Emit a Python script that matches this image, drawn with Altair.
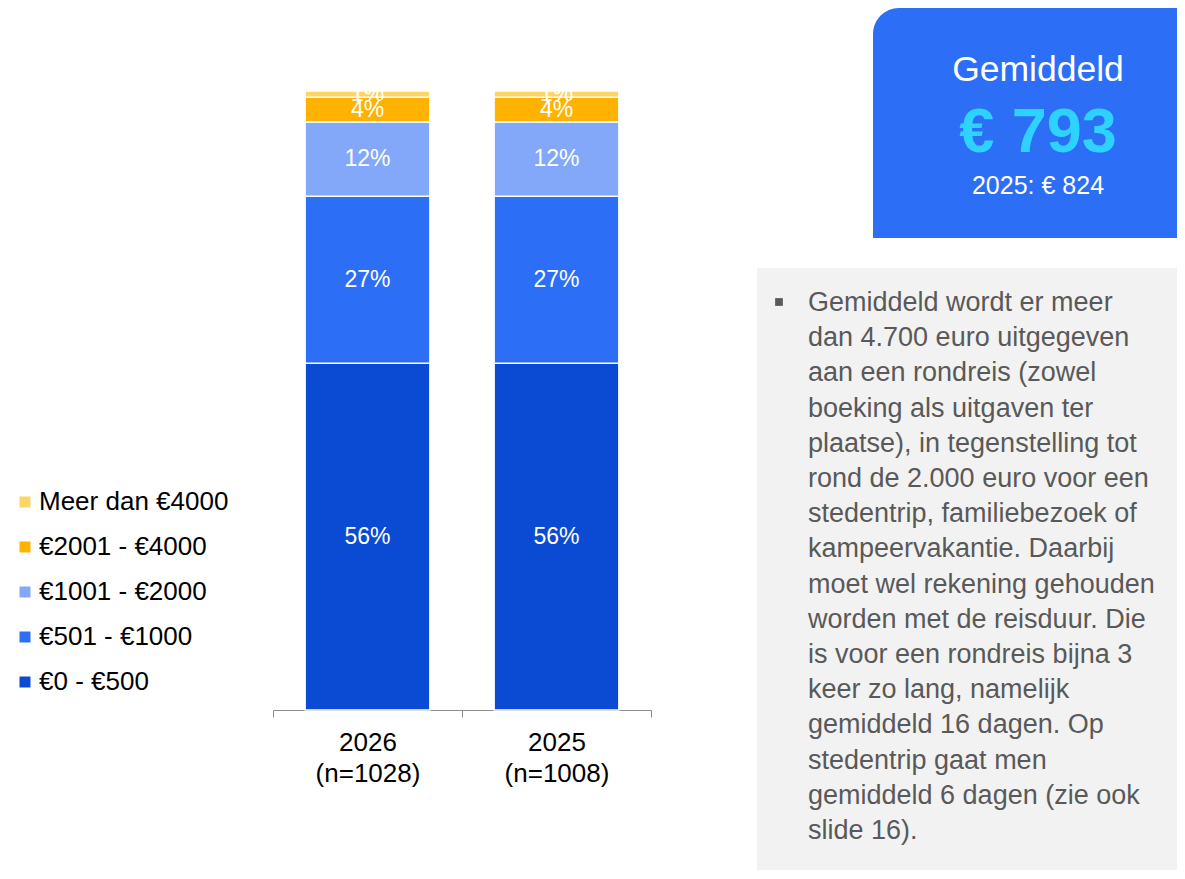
import altair as alt
import pandas as pd

# ---- data ----
years = ["2026\n(n=1028)", "2025\n(n=1008)"]
categories = ["€0 - €500", "€501 - €1000", "€1001 - €2000", "€2001 - €4000", "Meer dan €4000"]
values_2026 = [56, 27, 12, 4, 1]
values_2025 = [56, 27, 12, 4, 1]
colors = ["#0B4AD3", "#2D6EF6", "#83A8F9", "#FFB300", "#FFD466"]

box_title = "Gemiddeld"
box_value = "€ 793"
box_sub = "2025: € 824"
note_lines = [
    "Gemiddeld wordt er meer",
    "dan 4.700 euro uitgegeven",
    "aan een rondreis (zowel",
    "boeking als uitgaven ter",
    "plaatse), in tegenstelling tot",
    "rond de 2.000 euro voor een",
    "stedentrip, familiebezoek of",
    "kampeervakantie. Daarbij",
    "moet wel rekening gehouden",
    "worden met de reisduur. Die",
    "is voor een rondreis bijna 3",
    "keer zo lang, namelijk",
    "gemiddeld 16 dagen. Op",
    "stedentrip gaat men",
    "gemiddeld 6 dagen (zie ook",
    "slide 16).",
]

rows = []
for y, vals in zip(years, [values_2026, values_2025]):
    for i, (c, v) in enumerate(zip(categories, vals)):
        rows.append({"year": y, "cat": c, "value": v, "order": i, "label": f"{v}%"})
df = pd.DataFrame(rows)
one = pd.DataFrame({"a": [0]})

FONT = "Liberation Sans"
legend_domain = categories[::-1]
legend_range = colors[::-1]

xenc = alt.X(
    "year:N",
    sort=years,
    scale=alt.Scale(paddingInner=0, paddingOuter=0),
    axis=alt.Axis(
        title=None,
        labelExpr="split(datum.label, '\\n')",
        labelFontSize=26,
        labelFont=FONT,
        labelColor="black",
        labelLineHeight=31,
        labelPadding=12,
        labelAngle=0,
        labelBaseline="top",
        tickBand="extent",
        tickSize=7,
        domainColor="#8C8C8C",
        tickColor="#8C8C8C",
        grid=False,
    ),
)

bars = alt.Chart(df).mark_bar(stroke="white", strokeWidth=1.5, width=alt.RelativeBandSize(0.66)).encode(
    x=xenc,
    y=alt.Y("value:Q", stack="zero", scale=alt.Scale(domain=[0, 100]), axis=None),
    color=alt.Color(
        "cat:N",
        scale=alt.Scale(domain=legend_domain, range=legend_range),
        legend=alt.Legend(
            title=None,
            orient="none",
            legendX=-261,
            legendY=398,
            symbolType="square",
            symbolSize=121,
            symbolStrokeWidth=0,
            labelFontSize=26,
            labelFont=FONT,
            labelColor="black",
            labelLimit=400,
            rowPadding=19,
            labelOffset=1,
            symbolOpacity=1,
        ),
    ),
    order=alt.Order("order:Q", sort="ascending"),
)

labels = (
    alt.Chart(df)
    .transform_stack(stack="value", groupby=["year"], sort=[alt.SortField("order")], as_=["y0", "y1"])
    .transform_calculate(mid="(datum.y0 + datum.y1) / 2")
    .mark_text(color="white", fontSize=23, font=FONT, baseline="middle")
    .encode(x=alt.X("year:N", sort=years), y=alt.Y("mid:Q"), text="label:N")
)

blue_box = alt.Chart(one).mark_rect(color="#2D6EF6", cornerRadiusTopLeft=26).encode(
    x=alt.value(600), x2=alt.value(940), y=alt.value(-83), y2=alt.value(147)
)
t1 = alt.Chart(one).mark_text(text=box_title, color="white", fontSize=35.5, font=FONT, align="center", baseline="alphabetic").encode(
    x=alt.value(765), y=alt.value(-10)
)
t2 = alt.Chart(one).mark_text(text=box_value, color="#2ED2FF", fontSize=63, fontWeight="bold", font=FONT, align="center", baseline="alphabetic").encode(
    x=alt.value(765), y=alt.value(61)
)
t3 = alt.Chart(one).mark_text(text=box_sub, color="white", fontSize=25, font=FONT, align="center", baseline="alphabetic").encode(
    x=alt.value(765), y=alt.value(103)
)

gray_box = alt.Chart(one).mark_rect(color="#F2F2F2").encode(
    x=alt.value(484), x2=alt.value(940), y=alt.value(177), y2=alt.value(800)
)
bullet = alt.Chart(one).mark_point(shape="square", filled=True, size=60, color="#595959", opacity=1).encode(
    x=alt.value(506), y=alt.value(211)
)
note = alt.Chart(one).mark_text(text=note_lines, color="#595959", fontSize=27, font=FONT, align="left", baseline="alphabetic", lineHeight=35.2).encode(
    x=alt.value(535), y=alt.value(220)
)

chart = (
    alt.layer(gray_box, blue_box, bars, labels, t1, t2, t3, bullet, note)
    .properties(
        width=378,
        height=619,
        padding={"left": 265, "top": 83, "right": 526, "bottom": 160},
        autosize=alt.AutoSizeParams(type="none"),
        background="white",
    )
    .configure(font=FONT)
    .configure_view(strokeWidth=0, stroke="transparent")
)

chart.save("out.html", embed_options={"renderer": "svg", "actions": False})
